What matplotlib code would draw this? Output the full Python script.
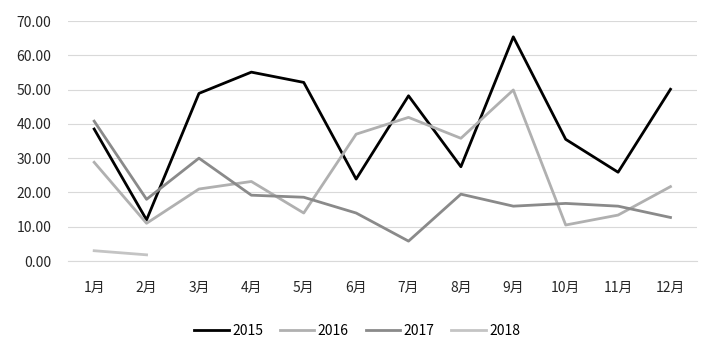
import matplotlib; matplotlib.use("Agg")
import matplotlib.pyplot as plt

plt.rcParams['font.family'] = ['Noto Sans CJK SC', 'DejaVu Sans']

months = [f"{m}月" for m in range(1, 13)]
y2015 = [38.5, 12.0, 48.9, 55.1, 52.1, 23.9, 48.2, 27.5, 65.4, 35.5, 25.9, 50.1]
y2016 = [28.8, 11.0, 21.0, 23.2, 14.0, 37.0, 41.9, 35.8, 49.9, 10.5, 13.4, 21.7]
y2017 = [40.8, 18.0, 30.0, 19.2, 18.6, 14.0, 5.8, 19.5, 16.0, 16.8, 16.0, 12.7]
y2018 = [3.0, 1.8]
yticks = [0, 10, 20, 30, 40, 50, 60, 70]

fig = plt.figure(figsize=(7.03, 3.51), dpi=100)
ax = fig.add_axes([0.0967, 0.2564, 0.8943, 0.6836])
x = list(range(12))
ax.plot(x, y2015, color="#000000", lw=2.0, label="2015")
ax.plot(x, y2016, color="#b0b0b0", lw=2.0, label="2016")
ax.plot(x, y2017, color="#8a8a8a", lw=2.0, label="2017")
ax.plot(x[:len(y2018)], y2018, color="#c4c4c4", lw=2.0, label="2018")

ax.set_xlim(-0.5, 11.5)
ax.set_ylim(0, 70)
ax.set_yticks(yticks)
ax.set_yticklabels([f"{v:.2f}" for v in yticks])
ax.set_xticks(x)
ax.set_xticklabels(months)
ax.grid(axis="y", color="#d9d9d9", lw=0.8)
ax.set_axisbelow(True)
for s in ax.spines.values():
    s.set_visible(False)
ax.spines["bottom"].set_visible(True)
ax.spines["bottom"].set_color("#d9d9d9")
ax.tick_params(length=0, labelsize=10, colors="#262626")
ax.tick_params(axis="x", pad=14)
ax.tick_params(axis="y", pad=12)

fig.legend(loc="center", bbox_to_anchor=(0.508, 0.057), ncol=4, frameon=False,
           fontsize=10, handlelength=2.5, columnspacing=1.2, handletextpad=0.25)
fig.savefig("out.png", dpi=100)
